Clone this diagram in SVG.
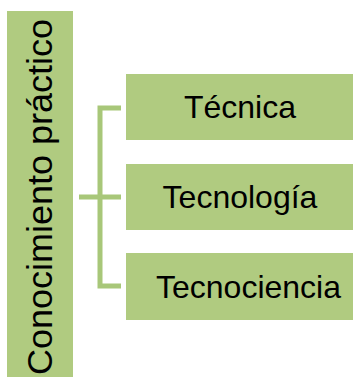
<svg xmlns="http://www.w3.org/2000/svg" width="353" height="377" viewBox="0 0 353 377">
<style>
.box{fill:#B0CB80}
.lbl{font-family:"Liberation Sans",Arial,sans-serif;font-size:32px;fill:#000}
.conn{fill:none;stroke:#A8C779;stroke-width:5}
</style>
<rect width="353" height="377" fill="#fff"/>
<g id="root">
<rect class="box" x="7" y="11" width="66" height="366"/>
<text class="lbl" style="font-size:35px" transform="translate(52,375) rotate(-90)" textLength="356" lengthAdjust="spacingAndGlyphs">Conocimiento práctico</text>
</g>
<g id="connectors">
<path class="conn" d="M121,108 H100 V286 H121"/>
<path class="conn" d="M79,197 H121"/>
</g>
<g id="tecnica">
<rect class="box" x="126" y="74" width="227" height="66"/>
<text class="lbl" x="240" y="118" text-anchor="middle">Técnica</text>
</g>
<g id="tecnologia">
<rect class="box" x="126" y="164" width="227" height="66"/>
<text class="lbl" x="240" y="208" text-anchor="middle">Tecnología</text>
</g>
<g id="tecnociencia">
<rect class="box" x="126" y="253" width="227" height="67"/>
<text class="lbl" x="156" y="298">Tecnociencia</text>
</g>
</svg>
